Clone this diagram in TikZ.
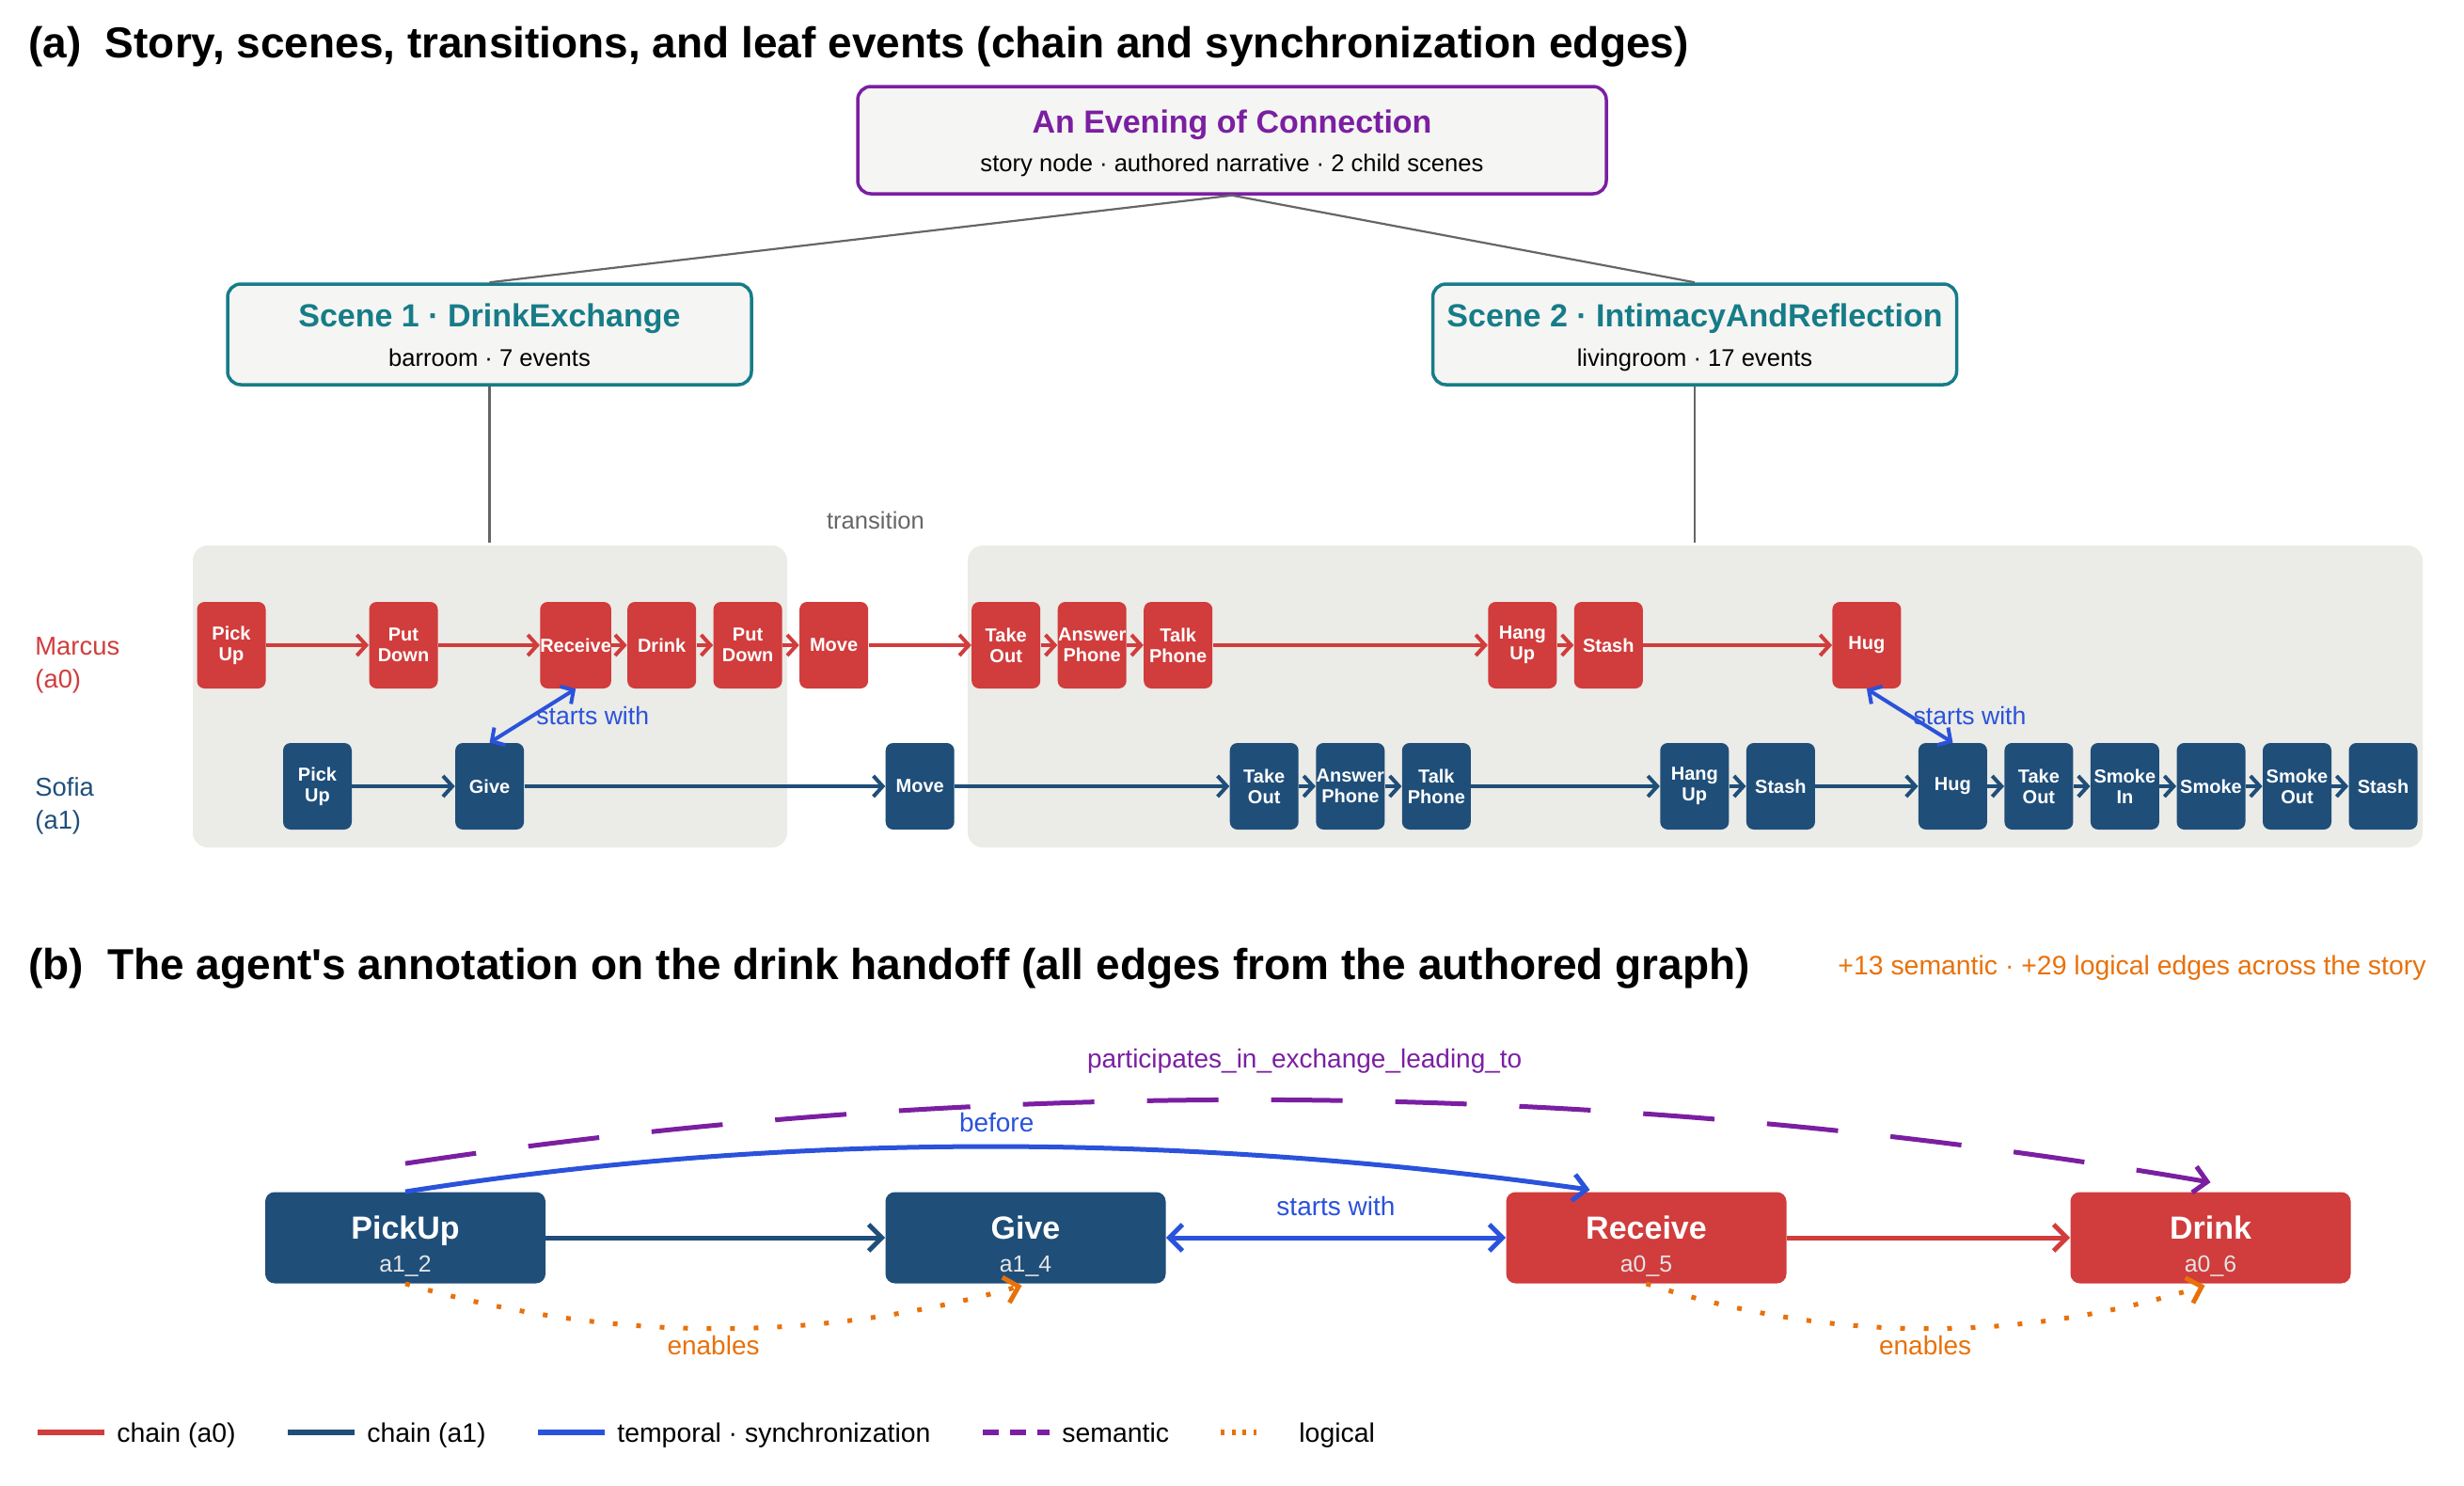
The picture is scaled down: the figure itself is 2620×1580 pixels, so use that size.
\documentclass[tikz,border=0pt]{standalone}
\usepackage{fontspec}
\setmainfont{Liberation Sans}[Ligatures=TeXOff]
\usetikzlibrary{arrows.meta,calc}
\definecolor{cRed}{HTML}{D13C3C}
\definecolor{cNavy}{HTML}{1F4E79}
\definecolor{cBlue}{HTML}{2A52DB}
\definecolor{cPurple}{HTML}{7B1FA2}
\definecolor{cOrange}{HTML}{E8710A}
\definecolor{cTeal}{HTML}{167C88}
\definecolor{cGray}{HTML}{666666}
\definecolor{cPanel}{HTML}{EBEBE7}
\definecolor{cBoxFill}{HTML}{F5F5F3}
\tikzset{
  sectitle/.style={anchor=west, inner sep=0pt, font=\bfseries\fontsize{23}{26}\selectfont},
  evA/.style={fill=cRed, rounded corners=4pt, minimum width=36.5pt, minimum height=46pt, inner sep=0pt, text=white, align=center, font=\bfseries\fontsize{10}{11}\selectfont},
  evB/.style={evA, fill=cNavy},
  barb/.tip={Straight Barb[length=5pt,width=11pt]},
  bigbarb/.tip={Straight Barb[length=7pt,width=14pt]},
  chA/.style={draw=cRed, line width=2pt, -barb},
  chB/.style={draw=cNavy, line width=2pt, -barb},
  syncA/.style={draw=cBlue, line width=2pt, barb-barb},
  synclab/.style={text=cBlue, font=\fontsize{13.3}{15}\selectfont, anchor=west, inner sep=1pt},
  tree/.style={draw=cGray, line width=1.1pt},
  lanelab/.style={anchor=west, align=left, inner sep=0pt, font=\fontsize{13.7}{17.5}\selectfont},
  storybox/.style={draw=cPurple, line width=1.75pt, fill=cBoxFill, rounded corners=7pt, minimum width=398pt, minimum height=57pt, inner sep=0pt},
  scenebox/.style={storybox, draw=cTeal, minimum width=278.5pt, minimum height=53.5pt},
  boxtitle/.style={anchor=base, inner sep=0pt, font=\bfseries\fontsize{17}{20}\selectfont},
  boxsub/.style={anchor=base, inner sep=0pt, font=\fontsize{12.8}{15}\selectfont},
  bnode/.style={fill=cNavy, rounded corners=5pt, minimum width=149pt, minimum height=48.5pt, inner sep=0pt},
  bnodeA/.style={bnode, fill=cRed},
  btitle/.style={anchor=base, inner sep=0pt, text=white, font=\bfseries\fontsize{17}{20}\selectfont},
  bsub/.style={anchor=base, inner sep=0pt, text=white!90!black, font=\fontsize{12.4}{14}\selectfont},
  bchA/.style={draw=cRed, line width=2.5pt, -bigbarb},
  bchB/.style={draw=cNavy, line width=2.5pt, -bigbarb},
  bsync/.style={draw=cBlue, line width=2.5pt},
  bsem/.style={draw=cPurple, line width=2.5pt, dash pattern=on 38pt off 28pt},
  blog/.style={draw=cOrange, line width=2.5pt, dash pattern=on 2.5pt off 10pt},
  elab/.style={font=\fontsize{14}{16}\selectfont, inner sep=0pt},
  legtext/.style={anchor=base west, inner sep=0pt, font=\fontsize{14.2}{16}\selectfont},
}
\begin{document}
\begin{tikzpicture}[x=0.5pt,y=-0.5pt]
\useasboundingbox (0,0) rectangle (2620,1580);

% ---------- section titles ----------
\node[sectitle] (ta) at (30,50) {(a)\hspace{0.55em}Story, scenes, transitions, and leaf events (chain and synchronization edges)};
\node[sectitle] (tb) at (30,1030) {(b)\hspace{0.55em}The agent's annotation on the drink handoff (all edges from the authored graph)};
\node[anchor=east, inner sep=0pt, text=cOrange, font=\fontsize{14.2}{16}\selectfont] (stats) at (2580,1029) {+13 semantic · +29 logical edges across the story};

% ---------- panels ----------
\fill[cPanel, rounded corners=8pt] (205,580) rectangle (837,901);
\fill[cPanel, rounded corners=8pt] (1029,580) rectangle (2576,901);
\coordinate (p1top) at (520.5,577);
\coordinate (p2top) at (1802,577);

% ---------- story & scenes ----------
\node[storybox] (story) at (1310,149) {};
\node[boxtitle, text=cPurple] (storyT) at ($(story.center)+(0,-8)$) {An Evening of Connection};
\node[boxsub] (storyS) at ($(story.center)+(0,33)$) {story node · authored narrative · 2 child scenes};
\node[scenebox] (s1) at (520.5,355.5) {};
\node[boxtitle, text=cTeal] (s1T) at ($(s1.center)+(0,-8)$) {Scene 1 · DrinkExchange};
\node[boxsub] (s1S) at ($(s1.center)+(0,34)$) {barroom · 7 events};
\node[scenebox] (s2) at (1802,355.5) {};
\node[boxtitle, text=cTeal] (s2T) at ($(s2.center)+(0,-8)$) {Scene 2 · IntimacyAndReflection};
\node[boxsub] (s2S) at ($(s2.center)+(0,34)$) {livingroom · 17 events};
\draw[tree] (story.south) -- (s1.north);
\draw[tree] (story.south) -- (s2.north);
\draw[tree] (s1.south) -- (p1top);
\draw[tree] (s2.south) -- (p2top);
\node[text=cGray, font=\fontsize{12.8}{15}\selectfont, inner sep=0pt] (trans) at (931,553) {transition};

% ---------- lane labels ----------
\node[lanelab, text=cRed] (marcus) at (37,707) {Marcus\\(a0)};
\node[lanelab, text=cNavy] (sofia) at (37,856.5) {Sofia\\(a1)};

% ---------- Marcus (a0) events ----------
\node[evA] (r1) at (246.0,686) {Pick\\Up};
\node[evA] (r2) at (429.0,686) {Put\\Down};
\node[evA] (r3) at (612.1,686) {Receive};
\node[evA] (r4) at (703.6,686) {Drink};
\node[evA] (r5) at (795.1,686) {Put\\Down};
\node[evA] (r6) at (886.6,686) {Move};
\node[evA] (r7) at (1069.7,686) {Take\\Out};
\node[evA] (r8) at (1161.2,686) {Answer\\Phone};
\node[evA] (r9) at (1252.7,686) {Talk\\Phone};
\node[evA] (r10) at (1618.8,686) {Hang\\Up};
\node[evA] (r11) at (1710.3,686) {Stash};
\node[evA] (r12) at (1984.9,686) {Hug};

% ---------- Sofia (a1) events ----------
\node[evB] (b1) at (337.5,836) {Pick\\Up};
\node[evB] (b2) at (520.6,836) {Give};
\node[evB] (b3) at (978.2,836) {Move};
\node[evB] (b4) at (1344.2,836) {Take\\Out};
\node[evB] (b5) at (1435.8,836) {Answer\\Phone};
\node[evB] (b6) at (1527.3,836) {Talk\\Phone};
\node[evB] (b7) at (1801.8,836) {Hang\\Up};
\node[evB] (b8) at (1893.4,836) {Stash};
\node[evB] (b9) at (2076.4,836) {Hug};
\node[evB] (b10) at (2167.9,836) {Take\\Out};
\node[evB] (b11) at (2259.4,836) {Smoke\\In};
\node[evB] (b12) at (2351.0,836) {Smoke};
\node[evB] (b13) at (2442.5,836) {Smoke\\Out};
\node[evB] (b14) at (2534.0,836) {Stash};

% chain edges
\foreach \a/\b in {r1/r2,r2/r3,r3/r4,r4/r5,r5/r6,r6/r7,r7/r8,r8/r9,r9/r10,r10/r11,r11/r12}
  \draw[chA] (\a) -- (\b);
\foreach \a/\b in {b1/b2,b2/b3,b3/b4,b4/b5,b5/b6,b6/b7,b7/b8,b8/b9,b9/b10,b10/b11,b11/b12,b12/b13,b13/b14}
  \draw[chB] (\a) -- (\b);

% synchronization edges
\draw[syncA] (r3.south) -- (b2.north) node[synclab, midway] (sw1) {starts with};
\draw[syncA] (r12.south) -- (b9.north) node[synclab, midway] (sw2) {starts with};

% ---------- section (b) ----------
\node[bnode] (pk) at (431,1316) {};
\node[btitle] (pkT) at ($(pk.center)+(0,1)$) {PickUp};
\node[bsub] (pkS) at ($(pk.center)+(0,36)$) {a1\_2};
\node[bnode] (gv) at (1090.5,1316) {};
\node[btitle] (gvT) at ($(gv.center)+(0,1)$) {Give};
\node[bsub] (gvS) at ($(gv.center)+(0,36)$) {a1\_4};
\node[bnodeA] (rc) at (1750.5,1316) {};
\node[btitle] (rcT) at ($(rc.center)+(0,1)$) {Receive};
\node[bsub] (rcS) at ($(rc.center)+(0,36)$) {a0\_5};
\node[bnodeA] (dr) at (2350.5,1316) {};
\node[btitle] (drT) at ($(dr.center)+(0,1)$) {Drink};
\node[bsub] (drS) at ($(dr.center)+(0,36)$) {a0\_6};

\draw[bchB] (pk) -- (gv);
\draw[bchA] (rc) -- (dr);
\draw[bsync, bigbarb-bigbarb] (gv) -- (rc) node[elab, text=cBlue, midway, yshift=17pt] (swb) {starts with};

% semantic
\draw[bsem, -bigbarb] ($(pk.north)+(0,-30)$) .. controls (1066,1141) and (1706,1147) .. ($(dr.north)+(0,-10)$)
  node[elab, text=cPurple, pos=0.5, yshift=21pt] (semlab) {participates\_in\_exchange\_leading\_to};
% before
\draw[bsync, -bigbarb] (pk.north) .. controls (836,1203) and (1256,1204) .. ($(rc.north)+(-60,-2)$)
  node[elab, text=cBlue, pos=0.5, yshift=13pt, xshift=5pt] (beflab) {before};
% logical
\draw[blog, -bigbarb] (pk.south) .. controls (649,1428) and (868,1428) .. ($(gv.south)+(-4,2)$)
  node[elab, text=cOrange, pos=0.5, yshift=-9pt] (en1) {enables};
\draw[blog, -bigbarb] (rc.south) .. controls (1948,1428) and (2146,1428) .. ($(dr.south)+(-6,2)$)
  node[elab, text=cOrange, pos=0.5, yshift=-9pt] (en2) {enables};

% ---------- legend ----------
\draw[cRed, line width=2.6pt] (40,1523) -- (111,1523);
\node[legtext] (lg1) at (124,1533) {chain (a0)};
\draw[cNavy, line width=2.6pt] (306,1523) -- (377,1523);
\node[legtext] (lg2) at (390,1533) {chain (a1)};
\draw[cBlue, line width=2.6pt] (572,1523) -- (643,1523);
\node[legtext] (lg3) at (656,1533) {temporal · synchronization};
\draw[cPurple, line width=2.6pt, dash pattern=on 8.5pt off 6pt] (1045,1523) -- (1116,1523);
\node[legtext] (lg4) at (1129,1533) {semantic};
\draw[cOrange, line width=2.6pt, dash pattern=on 2pt off 3.8pt] (1298,1523) -- (1336,1523);
\node[legtext] (lg5) at (1381,1533) {logical};
\end{tikzpicture}
\end{document}
